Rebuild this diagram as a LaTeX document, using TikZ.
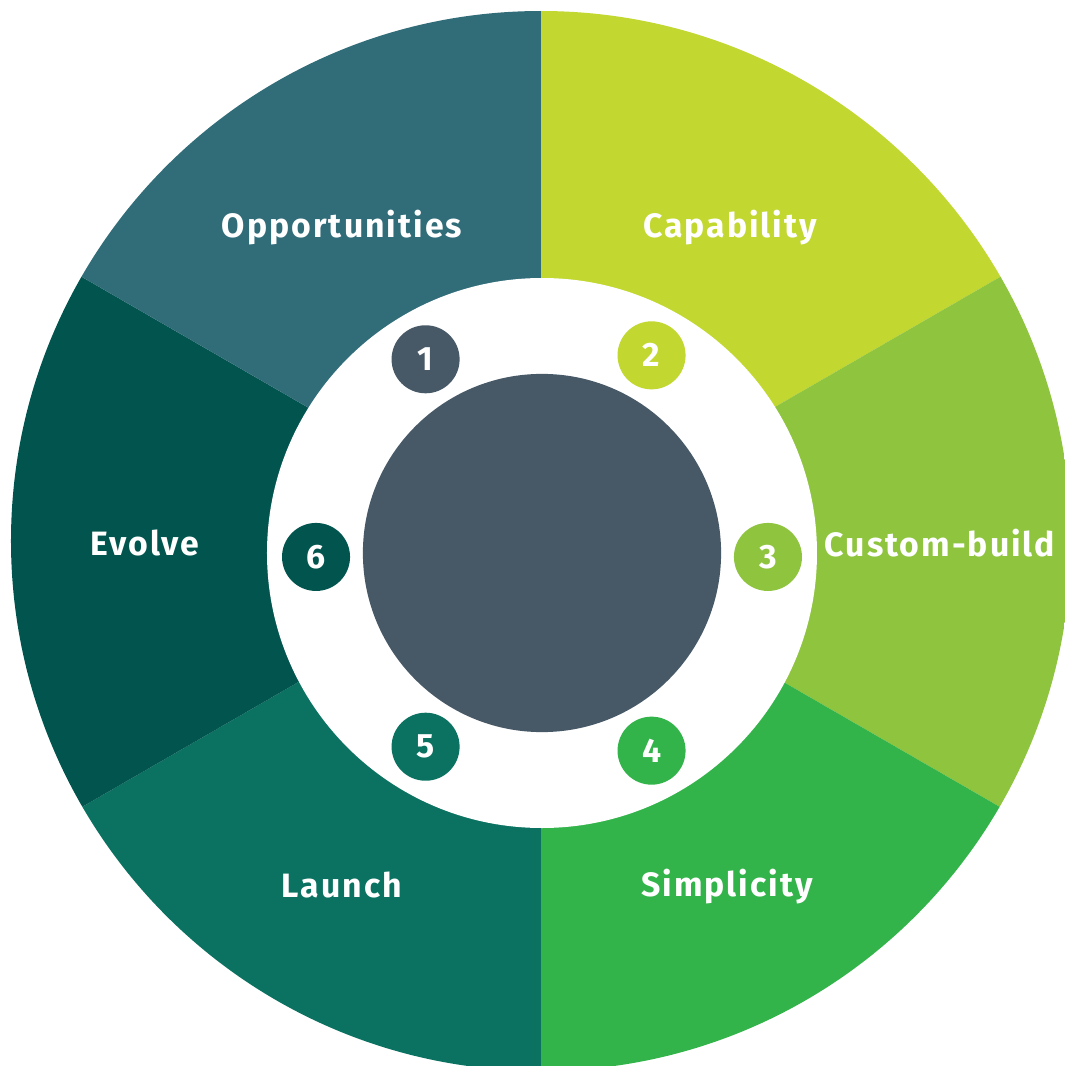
\documentclass[tikz,border=0pt]{standalone}
\usepackage{fontspec}
\setmainfont{Fira Sans}
\usepackage{tikz}
\tikzset{% labels and dots
    seglabel/.style={text=white, font=\bfseries\addfontfeature{LetterSpace=6}\fontsize{9.6}{10}\selectfont},
    numdot/.style={circle, minimum size=0.68cm, inner sep=0pt, text=white, font=\bfseries\fontsize{9.6}{10}\selectfont}
}
\definecolor{oppcol}{HTML}{316C79}
\definecolor{capcol}{HTML}{C2D72F}
\definecolor{custcol}{HTML}{8FC43F}
\definecolor{simpcol}{HTML}{33B44A}
\definecolor{launchcol}{HTML}{0B7261}
\definecolor{evolvecol}{HTML}{02554F}
\definecolor{hubcol}{HTML}{475966}

\begin{document}
\begin{tikzpicture}[x=0.01cm, y=0.01cm]
    		\newcommand{\outr}{530}
    		\newcommand{\ringr}{275}
    		\newcommand{\dotr}{226}
    		\useasboundingbox (-542,-513) rectangle (523,553);
    	
    		% outer ring of segments
    		\begin{scope}
    		\clip (-1,12) circle (\outr);
    		\fill[capcol] (-1,11) -- +(90:800) arc[start angle=90, end angle=30, radius=800] -- cycle;
    		\fill[custcol] (-1,11) -- +(30:800) arc[start angle=30, end angle=-30, radius=800] -- cycle;
    		\fill[simpcol] (-1,11) -- +(-30:800) arc[start angle=-30, end angle=-90, radius=800] -- cycle;
    		\fill[launchcol] (-1,11) -- +(-90:800) arc[start angle=-90, end angle=-150, radius=800] -- cycle;
    		\fill[evolvecol] (-1,11) -- +(210:800) arc[start angle=210, end angle=150, radius=800] -- cycle;
    		\fill[oppcol] (-1,11) -- +(150:800) arc[start angle=150, end angle=90, radius=800] -- cycle;
    		\end{scope}
    	
    		% white ring and hub
    		\fill[white] (0,0) circle (\ringr);
    		\node[circle, fill=hubcol, minimum size=3.58cm, inner sep=0pt] (hub) at (0,0) {};
    	
    		% numbered dots
    		\node[numdot, fill=hubcol] (n1) at (121:\dotr) {1};
    		\node[numdot, fill=capcol] (n2) at (61:\dotr) {2};
    		\node[numdot, fill=custcol] (n3) at (-1:\dotr) {3};
    		\node[numdot, fill=simpcol] (n4) at (-61:\dotr) {4};
    		\node[numdot, fill=launchcol] (n5) at (-121:\dotr) {5};
    		\node[numdot, fill=evolvecol] (n6) at (181:\dotr) {6};
    	
    		% segment labels
    		\node[seglabel] (opp) at (-200,325) {Opportunities};
    		\node[seglabel] (cap) at (188,325) {Capability};
    		\node[seglabel] (cust) at (398,10) {Custom-build};
    		\node[seglabel] (simp) at (185,-334) {Simplicity};
    		\node[seglabel] (launch) at (-200,-332) {Launch};
    		\node[seglabel] (evolve) at (-397,10) {Evolve};
\end{tikzpicture}
\end{document}
